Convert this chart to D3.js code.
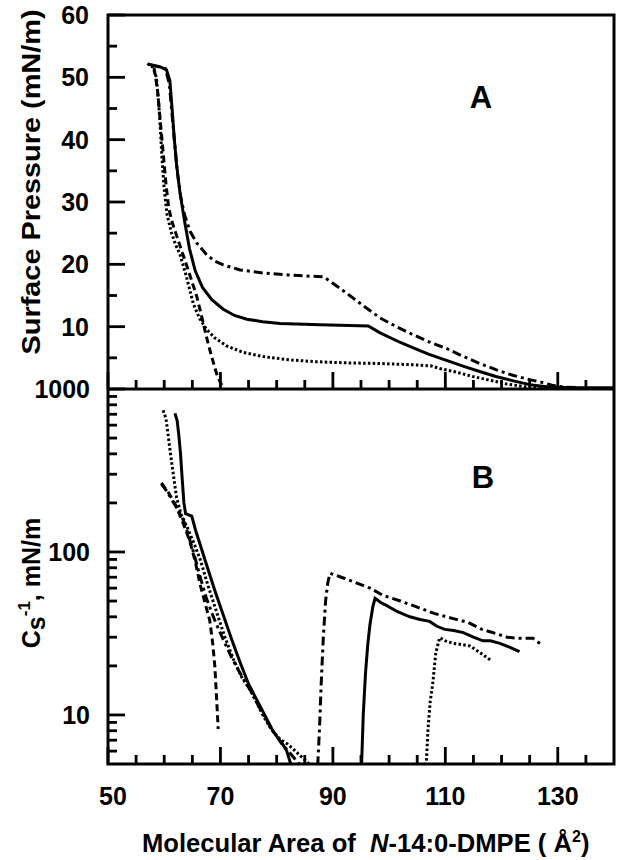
<!DOCTYPE html>
<html>
<head>
<meta charset="utf-8">
<script src="https://cdn.jsdelivr.net/npm/d3@7"></script>
<style>
  body { margin: 0; background: #ffffff; }
  svg text { font-family: "Liberation Sans", Arial, Helvetica, sans-serif; font-weight: bold; fill: #000; }
</style>
</head>
<body>
<div id="my_isotherm"></div>
<script>
// ---- panel A : surface pressure (mN/m) vs molecular area (A^2) ----
const solid_A = [[57.2,52.1],[59.2,51.7],[60.4,51.2],[61.0,49.5],[61.4,45],[61.8,40],[62.2,36],[62.8,31.5],[63.7,26.5],[64.5,22.5],[65.5,19],[66.8,16.3],[68.5,14.3],[70.5,12.8],[72.5,11.8],[74.7,11.2],[77.5,10.8],[80.6,10.5],[87.7,10.3],[96.3,10.1],[98.4,9.0],[101.9,7.5],[104.3,6.6],[107,5.6],[110.2,4.6],[113,3.7],[116.1,2.8],[119,2],[122.1,1.3],[125,0.7],[128,0.35],[132,0.2],[140,0.2]];
const dashdot_A = [[57.6,52],[60.2,51.4],[60.9,49],[61.3,45],[61.8,40],[62.3,35],[62.9,31],[63.6,28],[64.6,25.3],[65.8,23.4],[67.5,21.6],[69,20.5],[70.5,19.9],[73.5,19.1],[77.6,18.6],[82,18.3],[86,18.1],[88.3,18],[89.5,17.3],[92.4,15.4],[95.5,13.3],[98.4,11.4],[101.5,9.9],[104.3,8.7],[107,7.6],[110.2,6.5],[113,5.3],[116.1,4.1],[119,3.1],[122,2.2],[125,1.5],[127,1.1],[129,0.6],[131,0.3],[134,0.2]];
const dotted_A = [[57.0,52.2],[58.0,51.6],[58.6,50],[59.0,46],[59.3,42],[59.6,37],[60.0,32],[60.5,28],[61.3,25],[62.0,23.2],[62.8,21.6],[63.8,18.5],[65.2,13.6],[66.3,11.3],[67.5,9.6],[69,8.2],[71.1,6.9],[74,5.9],[77.6,5.2],[82,4.7],[86.5,4.4],[92,4.2],[98,4.1],[104,3.9],[107.5,3.7],[109,3.3],[112,2.7],[114.9,2.0],[118,1.4],[120.9,0.8],[124,0.4],[127,0.2]];
const dashed_A = [[58.2,51.5],[58.8,48],[59.3,43],[59.8,38],[60.3,33],[60.8,29],[61.5,26.5],[62.8,23],[64.3,19],[65.8,14.8],[66.7,11.5],[67.5,8.4],[68.4,5.3],[69.3,2.5],[70.0,1.0],[70.5,0.3]];

// ---- panel B : compressional modulus Cs^-1 (mN/m), log scale ----
const solid_B1 = [[61.9,710],[62.3,640],[62.6,520],[62.9,400],[63.2,280],[63.5,200],[63.8,172],[64.9,166],[65.6,135],[66.5,108],[67.5,84],[69,58],[70.5,41],[72,29],[73.5,21],[75,15.5],[76.4,12.5],[78,9.8],[79.4,7.9],[80.5,7],[81.2,6.5],[81.8,6],[82.5,5]];
const solid_B2 = [[95.1,4.9],[95.4,10],[95.8,18],[96.2,27],[96.6,36],[97.1,46],[97.5,52],[98.5,49],[99.5,47],[101.5,43],[103.7,40],[105.5,38.5],[107.2,37.5],[108.5,35],[109.9,33.5],[111.5,33],[113.2,32],[115,30],[116.7,28.5],[118,28.5],[119.7,27.5],[121.5,26],[123.2,24.5]];
const dotted_B1 = [[59.8,740],[60.3,660],[60.7,520],[61.0,430],[61.5,320],[62.2,215],[63,170],[64,144],[65.2,115],[66.4,90],[67.8,62],[69.3,43],[70.8,30],[72.3,22],[73.8,17],[75.2,14.4],[76.5,11.8],[77.6,9.9],[79,8.2],[80.6,7.1],[82,6.6],[82.9,6.2],[84,5.7],[85.3,5.2],[86,4.9]];
const dotted_B2 = [[106.6,4.9],[106.9,8],[107.3,12],[107.8,16],[108.3,24],[109,29.8],[110,28.5],[111.4,27.5],[113,27],[114.4,26.5],[116.1,24.2],[117,23],[118.2,21.5]];
const dashdot_B1 = [[59.5,262],[60.5,235],[61.5,205],[62.5,180],[63.3,160],[64.2,130],[65.2,100],[66.3,72],[67.5,52],[69,38],[70.5,29],[72,22.5],[73.5,18],[75.2,14.4],[77,11],[79,8.3],[81,6.6],[83,5.5],[84,5]];
const dashdot_B2 = [[87.3,4.9],[87.6,8],[87.9,15],[88.3,30],[88.7,50],[89.1,65],[89.5,74],[91,71],[93,67],[96.6,60],[99,54],[102,50],[104.9,46],[108,42],[111.4,39],[114,37],[116.5,33.5],[119.1,31.5],[121,30],[123.2,29.5],[125.6,29.5],[127.1,27]];
const dashed_B = [[59.5,265],[60.8,230],[62,195],[63.3,152],[64.5,118],[65.5,88],[66.4,63],[67.3,48],[68.1,38],[68.6,28],[69,20],[69.3,13],[69.6,8.2]];

// ticks
const area_major = [50, 70, 90, 110, 130];
const area_minor = [55, 60, 65, 75, 80, 85, 95, 100, 105, 115, 120, 125, 135];
const pressure_major = [10, 20, 30, 40, 50, 60];
const pressure_minor = [5, 15, 25, 35, 45, 55];
const modulus_major = [10, 100, 1000];
const modulus_minor = [6, 7, 8, 9, 20, 30, 40, 50, 60, 70, 80, 90, 200, 300, 400, 500, 600, 700, 800, 900];

const W = 618, H = 860;
const plotLeft = 108, plotRight = 614, topA = 15, midY = 389, bottomB = 764;
const majorLen = 17, minorLen = 9, tickW = 2.8;

const svg = d3.select("#my_isotherm")
  .append("svg")
    .attr("width", W)
    .attr("height", H);

const x = d3.scaleLinear().domain([50, 140]).range([plotLeft, plotRight]);
const yA = d3.scaleLinear().domain([0, 60]).range([midY, topA]);
const yB = d3.scaleLog().domain([5, 1000]).range([bottomB, midY]);

// clip each panel
const defs = svg.append("defs");
defs.append("clipPath").attr("id", "clipA")
  .append("rect").attr("x", plotLeft).attr("y", topA).attr("width", plotRight - plotLeft).attr("height", midY - topA);
defs.append("clipPath").attr("id", "clipB")
  .append("rect").attr("x", plotLeft).attr("y", midY).attr("width", plotRight - plotLeft).attr("height", bottomB - midY);

// tick labels
svg.append("g").selectAll("text")
  .data(pressure_major)
  .join("text")
    .attr("x", 89).attr("y", d => yA(d)).attr("dy", "0.36em")
    .attr("text-anchor", "end")
    .style("font-size", "25px")
    .text(d => d);
svg.append("g").selectAll("text")
  .data(modulus_major)
  .join("text")
    .attr("x", 90).attr("y", d => yB(d)).attr("dy", "0.36em")
    .attr("text-anchor", "end")
    .style("font-size", "25px")
    .text(d3.format("d"));
svg.append("g").selectAll("text")
  .data(area_major)
  .join("text")
    .attr("x", d => x(d) + (d === 50 ? 5 : 0)).attr("y", 805)
    .attr("text-anchor", "middle")
    .style("font-size", "25px")
    .text(d => d);

// frame
svg.append("rect")
  .attr("x", plotLeft).attr("y", topA)
  .attr("width", plotRight - plotLeft).attr("height", bottomB - topA)
  .attr("fill", "none").attr("stroke", "#000").attr("stroke-width", 3);
svg.append("line")
  .attr("x1", plotLeft).attr("x2", plotRight).attr("y1", midY).attr("y2", midY)
  .attr("stroke", "#000").attr("stroke-width", 3);

// curves
const lineA = d3.line().x(d => x(d[0])).y(d => yA(d[1]));
const lineB = d3.line().x(d => x(d[0])).y(d => yB(d[1]));

const dashes = { solid: null, dotted: "2.5,2.3", dashed: "7,4", dashdot: "9,4,3,4" };

const seriesA = [
  { data: solid_A, style: "solid" },
  { data: dashdot_A, style: "dashdot" },
  { data: dotted_A, style: "dotted" },
  { data: dashed_A, style: "dashed" }
];
const seriesB = [
  { data: solid_B1, style: "solid" },
  { data: solid_B2, style: "solid" },
  { data: dotted_B1, style: "dotted" },
  { data: dotted_B2, style: "dotted" },
  { data: dashdot_B1, style: "dashdot" },
  { data: dashdot_B2, style: "dashdot" },
  { data: dashed_B, style: "dashed" }
];

svg.append("g").attr("clip-path", "url(#clipA)")
  .selectAll("path")
  .data(seriesA)
  .join("path")
    .attr("d", d => lineA(d.data))
    .attr("fill", "none")
    .attr("stroke", "#000")
    .attr("stroke-width", 3)
    .attr("stroke-dasharray", d => dashes[d.style]);

svg.append("g").attr("clip-path", "url(#clipB)")
  .selectAll("path")
  .data(seriesB)
  .join("path")
    .attr("d", d => lineB(d.data))
    .attr("fill", "none")
    .attr("stroke", "#000")
    .attr("stroke-width", 3)
    .attr("stroke-dasharray", d => dashes[d.style]);

// tick marks, all pointing into the plot (drawn last, on top)
const tickLayer = svg.append("g").attr("class", "ticks");
function yTicks(scale, values, len) {
  tickLayer.append("g").selectAll("rect")
    .data(values)
    .join("rect")
      .attr("x", plotLeft)
      .attr("y", d => scale(d) - tickW / 2)
      .attr("width", len)
      .attr("height", tickW)
      .attr("fill", "#000");
}
function xTicks(yPos, values, len) {
  tickLayer.append("g").selectAll("rect")
    .data(values)
    .join("rect")
      .attr("x", d => x(d) - tickW / 2)
      .attr("y", yPos - len)
      .attr("width", tickW)
      .attr("height", len)
      .attr("fill", "#000");
}
yTicks(yA, pressure_major, majorLen);
yTicks(yA, pressure_minor, minorLen);
yTicks(yB, modulus_major, majorLen);
yTicks(yB, modulus_minor, minorLen);
xTicks(midY, area_major, majorLen);
xTicks(midY, area_minor, minorLen);
xTicks(bottomB, area_major, majorLen);
xTicks(bottomB, area_minor, minorLen);

// panel letters
svg.append("text").attr("x", 481).attr("y", 108).attr("text-anchor", "middle").style("font-size", "31px").text("A");
svg.append("text").attr("x", 483).attr("y", 488).attr("text-anchor", "middle").style("font-size", "31px").text("B");

// y titles
svg.append("text")
  .attr("transform", "translate(40,182) rotate(-90)")
  .attr("text-anchor", "middle")
  .attr("textLength", 345)
  .attr("lengthAdjust", "spacingAndGlyphs")
  .style("font-size", "25px")
  .text("Surface Pressure (mN/m)");

const yTitleB = svg.append("text")
  .attr("transform", "translate(40,583) rotate(-90)")
  .attr("text-anchor", "middle")
  .style("font-size", "25px");
yTitleB.append("tspan").text("C");
yTitleB.append("tspan").attr("dy", 5).text("s");
yTitleB.append("tspan").attr("dy", -15).style("font-size", "17px").text("-1");
yTitleB.append("tspan").attr("dy", 10).text(", mN/m");

// x title
const xTitle = svg.append("text")
  .attr("x", 142).attr("y", 852)
  .style("font-size", "25.6px");
xTitle.append("tspan").text("Molecular Area of\u00A0\u00A0");
xTitle.append("tspan").style("font-style", "italic").text("N");
xTitle.append("tspan").text("-14:0-DMPE (\u00A0\u00C5");
xTitle.append("tspan").attr("dy", -10).style("font-size", "16px").text("2");
xTitle.append("tspan").attr("dy", 10).text(")");
</script>
</body>
</html>
